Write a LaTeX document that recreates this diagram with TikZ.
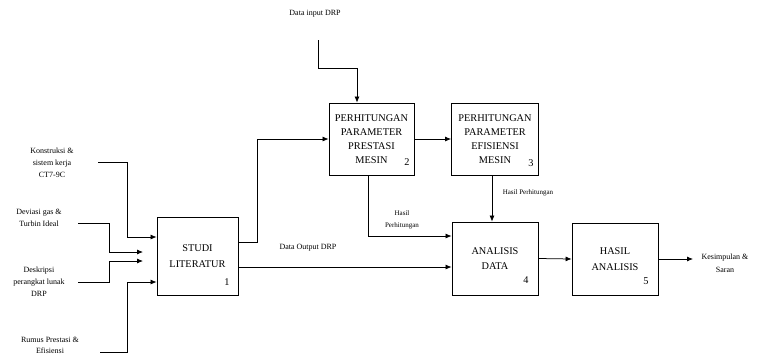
\documentclass[tikz,border=0pt]{standalone}
\usepackage{fontspec}
\setmainfont{Liberation Serif}
\usetikzlibrary{arrows.meta}
\begin{document}
\begin{tikzpicture}[x=1pt,y=-1pt,
  box/.style={draw, line width=0.8pt, inner sep=0pt, align=center, font=\fontsize{10.3}{14}\selectfont},
  boxb/.style={box, font=\fontsize{10.3}{15.5}\selectfont},
  lbl/.style={align=center, inner sep=0pt, font=\fontsize{8}{12}\selectfont},
  slbl/.style={align=center, inner sep=0pt, font=\fontsize{7}{12}\selectfont},
  num/.style={inner sep=0pt, font=\fontsize{10.3}{11}\selectfont},
  arr/.style={-{Latex[length=6pt,width=5pt]}, line width=0.75pt},
  ln/.style={line width=0.75pt}]
\useasboundingbox (0,0) rectangle (758,357);

% boxes
\node[boxb, minimum width=81pt, minimum height=78pt] (b1) at (197.5,256) {STUDI\\LITERATUR};
\node[box, minimum width=85pt, minimum height=72pt] (b2) at (371.5,139) {PERHITUNGAN\\PARAMETER\\PRESTASI\\MESIN};
\node[box, minimum width=87pt, minimum height=72pt] (b3) at (495,139) {PERHITUNGAN\\PARAMETER\\EFISIENSI\\MESIN};
\node[boxb, minimum width=86pt, minimum height=73pt] (b4) at (495,258.5) {ANALISIS\\DATA};
\node[boxb, minimum width=86pt, minimum height=72pt] (b5) at (615,259) {HASIL\\ANALISIS};

% numbers
\node[num] (n1) at (227,282) {1};
\node[num] (n2) at (407,162) {2};
\node[num] (n3) at (531,163) {3};
\node[num] (n4) at (526,280) {4};
\node[num] (n5) at (646,281) {5};

% labels
\node[lbl] (k1) at (52,163) {Konstruksi \&\\sistem kerja\\CT7-9C};
\node[lbl] (k2) at (39,217.5) {Deviasi gas \&\\Turbin Ideal};
\node[lbl] (k3) at (39,282) {Deskripsi\\perangkat lunak\\DRP};
\node[lbl, font=\fontsize{8}{11.5}\selectfont] (k4) at (50,345.5) {Rumus Prestasi \&\\Efisiensi};
\node[lbl] (din) at (315,14) {Data input DRP};
\node[lbl] (dout) at (308,248) {Data Output DRP};
\node[slbl] (h2) at (402,220) {Hasil\\Perhitungan};
\node[slbl] (h3) at (528,193) {Hasil Perhitungan};
\node[lbl, font=\fontsize{8}{13}\selectfont] (ks) at (725,263) {Kesimpulan \&\\Saran};

% coordinates for free ends
\coordinate (s1) at (98,162);
\coordinate (s2) at (78,223);
\coordinate (s3) at (78,282);
\coordinate (s4) at (100,352);
\coordinate (a2) at (143,252);
\coordinate (a3) at (143,261);
\coordinate (d0) at (318,40);
\coordinate (out) at (693,259);

% connectors
\draw[arr] (s1) -- (127,162) -- (127,237) -- ([yshift=19pt]b1.west);
\draw[arr] (s2) -- (109,223) -- (109,252) -- (a2);
\draw[arr] (s3) -- (109,282) -- (109,261) -- (a3);
\draw[arr] (s4) -- (127,352) -- (127,282) -- ([yshift=-26pt]b1.west);
\draw[arr] ([yshift=14pt]b1.east) -- (257,242) -- (257,139) -- (b2.west);
\draw[arr] ([yshift=-11pt]b1.east) -- ([yshift=-8.5pt]b4.west);
\draw[arr] (b2.east) -- (b3.west);
\draw[arr] ([xshift=-3.5pt]b2.south) -- (368,236) -- ([yshift=22.5pt]b4.west);
\draw[arr] ([xshift=-3pt]b3.south) -- ([xshift=-3pt]b4.north);
\draw[arr] (b4.east) -- (b5.west);
\draw[arr] (b5.east) -- (out);
\draw[arr] (d0) -- (318,68) -- (357,68) -- ([xshift=-14.5pt]b2.north);
\end{tikzpicture}
\end{document}
